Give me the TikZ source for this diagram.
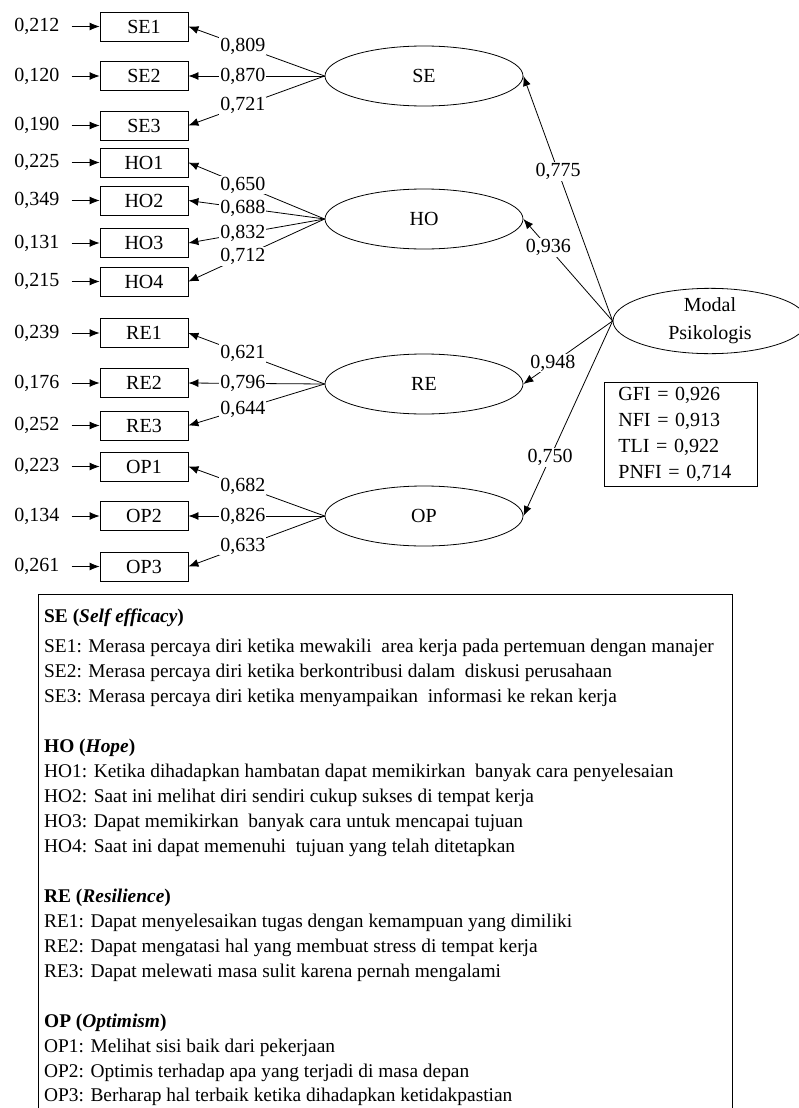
\documentclass[tikz,border=0pt]{standalone}
\usepackage{fontspec}
\setmainfont{Liberation Serif}
\usetikzlibrary{shapes.geometric,positioning,arrows.meta}

\begin{document}
\begin{tikzpicture}[x=1pt, y=-1pt,
    every node/.style={font=\fontsize{20}{24}\selectfont},
    ind/.style={draw, line width=0.8pt, minimum width=88pt, minimum height=29pt, inner sep=0pt},
    lat/.style={draw, ellipse, line width=0.8pt, minimum width=198pt, minimum height=60pt, inner sep=0pt},
    err/.style={inner sep=0pt},
    load/.style={fill=white, inner sep=1pt},
    arr/.style={-{Latex[length=10pt,width=8pt]}, line width=0.8pt},
    item/.style={anchor=base west, inner sep=0pt, font=\fontsize{19.4}{25}\selectfont}
]

    % Page frame
    \useasboundingbox (0,0) rectangle (798,1108);

    % Indicators
    \foreach \name/\y in {SE1/26.5, SE2/76, SE3/125.5, HO1/162.5, HO2/200.5, HO3/243, HO4/281.5,
                          RE1/333, RE2/383, RE3/425.5, OP1/466.5, OP2/516, OP3/566.5} {
        \node[ind] (\name) at (144,\y) {\name};
    }

    % Error terms
    \foreach \name/\val in {SE1/{0,212}, SE2/{0,120}, SE3/{0,190}, HO1/{0,225}, HO2/{0,349},
                            HO3/{0,131}, HO4/{0,215}, RE1/{0,239}, RE2/{0,176}, RE3/{0,252},
                            OP1/{0,223}, OP2/{0,134}, OP3/{0,261}} {
        \node[err, left=40pt of \name] (e\name) {\val};
        \draw[arr, shorten <=12pt] (e\name) -- (\name);
    }

    % Dimensions
    \node[lat] (SE) at (424,76) {SE};
    \node[lat] (HO) at (424,219) {HO};
    \node[lat] (RE) at (424,384) {RE};
    \node[lat] (OP) at (424,516) {OP};
    \node[lat, minimum width=194pt, minimum height=58pt, align=center,
          font=\fontsize{20}{28}\selectfont] (MP) at (710,321) {Modal\\Psikologis};

    % Loadings
    \foreach \lv/\name/\val in {SE/SE1/{0,809}, SE/SE2/{0,870}, SE/SE3/{0,721},
                                HO/HO1/{0,650}, HO/HO2/{0,688}, HO/HO3/{0,832}, HO/HO4/{0,712},
                                RE/RE1/{0,621}, RE/RE2/{0,796}, RE/RE3/{0,644},
                                OP/OP1/{0,682}, OP/OP2/{0,826}, OP/OP3/{0,633}} {
        \draw[arr] (\lv.west) -- node[load, pos=0.6] (l\name) {\val} (\name.east);
    }

    % Second order
    \foreach \lv/\p/\val in {SE/0.61/{0,775}, HO/0.72/{0,936}, RE/0.67/{0,948}, OP/0.70/{0,750}} {
        \draw[arr] (MP.west) -- node[load, pos=\p] (s\lv) {\val} (\lv.east);
    }

    % Fit indices
    \node[draw, line width=0.8pt, align=left, anchor=north west, text width=125pt,
          inner xsep=14pt, inner ysep=5pt, font=\fontsize{20}{26}\selectfont] (fit) at (604,382)
          {GFI = 0,926\\NFI = 0,913\\TLI = 0,922\\PNFI = 0,714};

    % Item list
    \draw[line width=0.8pt] (38,1120) -- (38,594) -- (732,594) -- (732,1120);
    \foreach \y/\txt in {
        622/{\textbf{SE (\textit{Self efficacy})}},
        652/{SE1: Merasa percaya diri ketika mewakili~ area kerja pada pertemuan dengan manajer},
        677/{SE2: Merasa percaya diri ketika berkontribusi dalam~ diskusi perusahaan},
        702/{SE3: Merasa percaya diri ketika menyampaikan~ informasi ke rekan kerja},
        752/{\textbf{HO (\textit{Hope})}},
        777/{HO1: Ketika dihadapkan hambatan dapat memikirkan~ banyak cara penyelesaian},
        802/{HO2: Saat ini melihat diri sendiri cukup sukses di tempat kerja},
        827/{HO3: Dapat memikirkan~ banyak cara untuk mencapai tujuan},
        852/{HO4: Saat ini dapat memenuhi~ tujuan yang telah ditetapkan},
        902/{\textbf{RE (\textit{Resilience})}},
        927/{RE1: Dapat menyelesaikan tugas dengan kemampuan yang dimiliki},
        952/{RE2: Dapat mengatasi hal yang membuat stress di tempat kerja},
        977/{RE3: Dapat melewati masa sulit karena pernah mengalami},
        1027/{\textbf{OP (\textit{Optimism})}},
        1052/{OP1: Melihat sisi baik dari pekerjaan},
        1077/{OP2: Optimis terhadap apa yang terjadi di masa depan},
        1101/{OP3: Berharap hal terbaik ketika dihadapkan ketidakpastian}} {
        \node[item] (d\y) at (44,\y) {\txt};
    }
\end{tikzpicture}
\end{document}
